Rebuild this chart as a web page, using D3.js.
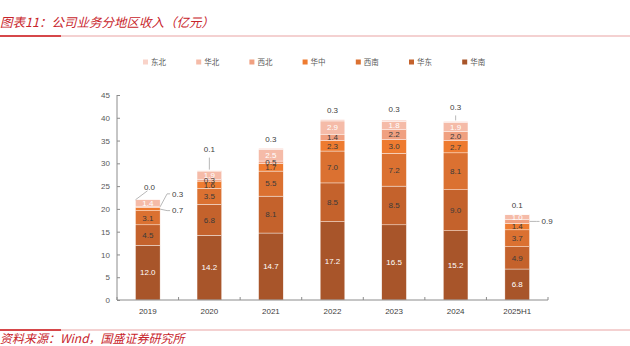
<!DOCTYPE html>
<html><head><meta charset="utf-8">
<script src="https://cdn.jsdelivr.net/npm/d3@7"></script>
<style>html,body{margin:0;padding:0;background:#fff;}svg{display:block;}</style>
</head><body>
<svg id="c" width="630" height="346"></svg>
<script>
const years = ['2019','2020','2021','2022','2023','2024','2025H1'];
const seriesNames = ['华南','华东','西南','华中','西北','华北','东北'];
const huanan   = [12.0,14.2,14.7,17.2,16.5,15.2,6.8];
const huadong  = [4.5,6.8,8.1,8.5,8.5,9.0,4.9];
const xinan    = [3.1,3.5,5.5,7.0,7.2,8.1,3.7];
const huazhong = [0.7,1.6,1.7,2.3,3.0,2.7,1.4];
const xibei    = [0.3,0.3,0.5,1.4,2.2,2.0,0.9];
const huabei   = [1.4,1.9,2.5,2.9,1.8,1.9,1.0];
const dongbei  = [0.0,0.1,0.3,0.3,0.3,0.3,0.1];
const yTicks = [0,5,10,15,20,25,30,35,40,45];
const legendOrder = ['东北','华北','西北','华中','西南','华东','华南'];

const seriesValues = [huanan,huadong,xinan,huazhong,xibei,huabei,dongbei];
const colors = {'华南':'#A8552A','华东':'#C4622C','西南':'#DB7131','华中':'#EE7B30','西北':'#F0A080','华北':'#F5BBA8','东北':'#F9D3C9'};
const labelColors = {'华南':'#ffffff','华东':'#3a3a3a','西南':'#3a3a3a','华中':'#3a3a3a','西北':'#3a3a3a','华北':'#ffffff','东北':'#3a3a3a'};

const rows = years.map((y,i)=>{const r={year:y}; seriesNames.forEach((s,k)=>r[s]=seriesValues[k][i]); return r;});
const stack = d3.stack().keys(seriesNames)(rows);

const svg = d3.select('#c');
const red = '#C8242B';
const fontCN = '"Noto Sans CJK SC","Noto Sans",sans-serif';
const fontNum = '"Liberation Sans",Arial,sans-serif';

// header
svg.append('text').attr('x',0).attr('y',27).attr('font-family',fontCN).attr('font-size',12.5)
  .attr('font-style','italic').attr('fill',red).text('图表11：公司业务分地区收入（亿元）');
svg.append('line').attr('x1',60).attr('x2',630).attr('y1',36).attr('y2',36).attr('stroke','#E9A3A3').attr('stroke-width',1);
svg.append('line').attr('x1',0).attr('x2',61).attr('y1',36).attr('y2',36).attr('stroke','#D6474A').attr('stroke-width',2);
// footer
svg.append('line').attr('x1',60).attr('x2',630).attr('y1',330).attr('y2',330).attr('stroke','#E9A3A3').attr('stroke-width',1);
svg.append('line').attr('x1',0).attr('x2',61).attr('y1',330).attr('y2',330).attr('stroke','#D6474A').attr('stroke-width',2);
svg.append('text').attr('x',0).attr('y',343).attr('font-family',fontCN).attr('font-size',12)
  .attr('font-style','italic').attr('fill',red).text('资料来源：Wind，国盛证券研究所');

const x = d3.scaleBand().domain(years).range([117,548]).padding(0);
const bw = x.step()*0.4;
const y = d3.scaleLinear().domain([0,45]).range([300,95]);
const cx = d => x(d)+x.bandwidth()/2;

// legend
const lg = svg.append('g');
legendOrder.forEach((s,i)=>{
  const lx = 143 + i*53.2;
  lg.append('rect').attr('x',lx).attr('y',59.5).attr('width',5).attr('height',5).attr('fill',colors[s]);
  lg.append('text').attr('x',lx+8).attr('y',65).attr('font-family',fontCN).attr('font-size',7.5).attr('fill','#595959').text(s);
});

// bars
stack.forEach(layer=>{
  const key = layer.key;
  svg.append('g').selectAll('rect').data(layer).join('rect')
    .attr('x',d=>cx(d.data.year)-bw/2).attr('width',bw)
    .attr('y',d=>y(d[1])).attr('height',d=>Math.max(0,y(d[0])-y(d[1])))
    .attr('fill',colors[key]).attr('stroke','#fff').attr('stroke-width',0.4);
});

// axes
const yAxis = d3.axisLeft(y).tickValues(yTicks).tickSize(-3).tickPadding(7).tickFormat(d3.format('d'));
const gy = svg.append('g').attr('transform','translate(117,0)').call(yAxis);
gy.select('.domain').attr('stroke','#8c8c8c').attr('d','M0,'+y(45)+'V'+y(0));
gy.selectAll('.tick line').attr('stroke','#8c8c8c');
gy.selectAll('.tick text').attr('font-family',fontNum).attr('font-size',8).attr('fill','#595959');

const gx = svg.append('g').attr('transform','translate(0,300)');
gx.append('line').attr('x1',117).attr('x2',548).attr('stroke','#8c8c8c');
years.forEach((yy,i)=>{
  gx.append('line').attr('x1',x(yy)).attr('x2',x(yy)).attr('y1',0).attr('y2',-3).attr('stroke','#8c8c8c');
  gx.append('text').attr('x',cx(yy)).attr('y',14).attr('text-anchor','middle').attr('font-family',fontNum)
    .attr('font-size',8).attr('fill','#404040').text(yy);
});
gx.append('line').attr('x1',548).attr('x2',548).attr('y1',0).attr('y2',-3).attr('stroke','#8c8c8c');

// label placement rules (style only)
const callouts = {
  '2019|东北':{type:'diagTL'},
  '2019|西北':{type:'right', dy:-13},
  '2019|华中':{type:'right', dy:1.5},
  '2025H1|西北':{type:'right', dy:0}
};
const topLeader = {'2020':12,'2024':5,'2023':2};
const fmt = d3.format('.1f');
const lab = svg.append('g').attr('font-family',fontNum).attr('font-size',8);
const leaderC = '#a6a6a6';
stack.forEach(layer=>{
  const key = layer.key;
  layer.forEach(d=>{
    const yr = d.data.year, v = d.data[key];
    const mid = (y(d[0])+y(d[1]))/2;
    const c = callouts[yr+'|'+key];
    const bl = cx(yr)-bw/2, br = cx(yr)+bw/2;
    if (c && c.type==='right') {
      const ly = mid + c.dy;
      lab.append('path').attr('d',`M${br},${mid}L${br+7},${ly}L${br+10},${ly}`).attr('fill','none').attr('stroke',leaderC).attr('stroke-width',0.8);
      lab.append('text').attr('x',br+12).attr('y',ly).attr('dy','0.35em').attr('fill','#404040').text(fmt(v));
    } else if (c && c.type==='diagTL') {
      const top = y(d[1]);
      lab.append('path').attr('d',`M${bl},${top}L${bl+12},${top-9}`).attr('fill','none').attr('stroke',leaderC).attr('stroke-width',0.8);
      lab.append('text').attr('x',bl+14).attr('y',top-13).attr('dy','0.35em').attr('text-anchor','middle').attr('fill','#404040').text(fmt(v));
    } else if (key==='东北') {
      const top = y(d[1]);
      const ext = topLeader[yr]||0;
      if (ext>2) lab.append('line').attr('x1',cx(yr)).attr('x2',cx(yr)).attr('y1',top-1).attr('y2',top-1-ext).attr('stroke',leaderC).attr('stroke-width',0.8);
      lab.append('text').attr('x',cx(yr)).attr('y',top-6-ext-3).attr('dy','0.35em').attr('text-anchor','middle').attr('fill','#404040').text(fmt(v));
    } else {
      lab.append('text').attr('x',cx(yr)).attr('y',mid).attr('dy','0.35em').attr('text-anchor','middle').attr('fill',labelColors[key]).text(fmt(v));
    }
  });
});
</script>
</body></html>
